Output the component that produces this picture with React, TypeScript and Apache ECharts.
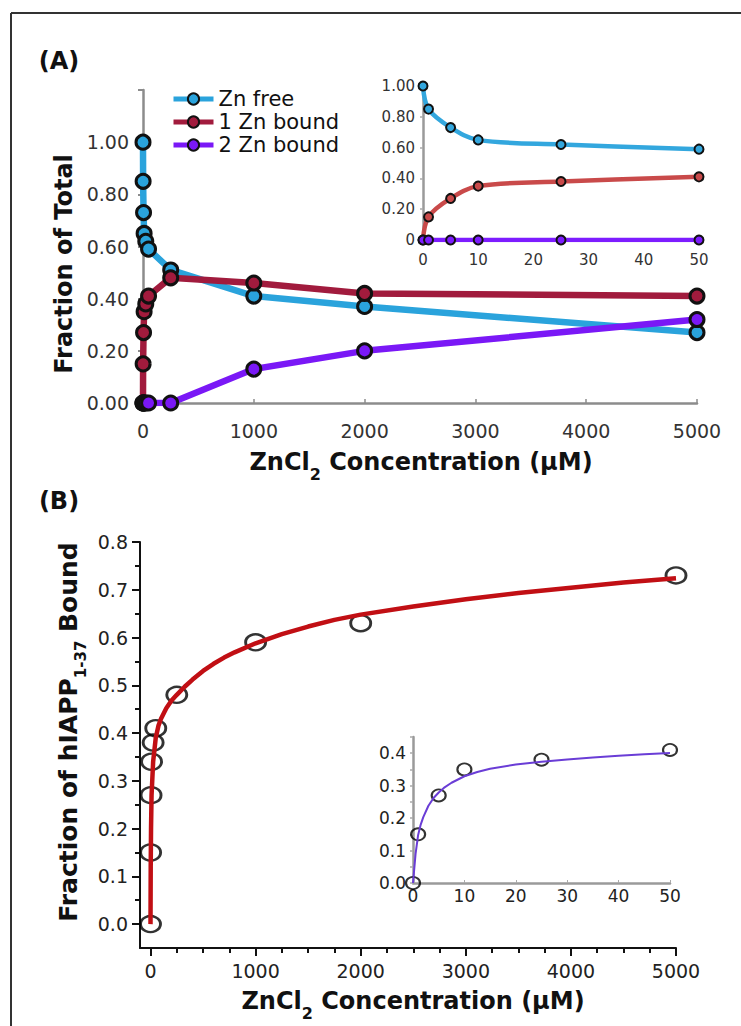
import React, { useEffect, useRef } from "react";
import * as echarts from "echarts";

// ---------- data ----------
// Panel A main: fractions vs ZnCl2 concentration (µM)
const concA = [0, 1, 5, 10, 25, 50, 250, 1000, 2000, 5000];
const znFree = [1.0, 0.85, 0.73, 0.65, 0.62, 0.59, 0.51, 0.41, 0.37, 0.27];
const zn1Bound = [0, 0.15, 0.27, 0.35, 0.38, 0.41, 0.48, 0.46, 0.42, 0.41];
const zn2Bound = [0, 0, 0, 0, 0, 0, 0, 0.13, 0.2, 0.32];

// Panel A inset (0-50 µM)
const concAInset = [0, 1, 5, 10, 25, 50];
const znFreeInset = [1.0, 0.85, 0.73, 0.65, 0.62, 0.59];
const zn1BoundInset = [0, 0.15, 0.27, 0.35, 0.38, 0.41];
const zn2BoundInset = [0, 0, 0, 0, 0, 0];

// Panel B main: fraction of hIAPP bound
const concB = [0, 1, 5, 10, 25, 50, 250, 1000, 2000, 5000];
const boundB = [0, 0.15, 0.27, 0.34, 0.38, 0.41, 0.48, 0.59, 0.63, 0.73];
// fitted curve
const fitBX = [0, 2, 5, 10, 25, 50, 75, 100, 150, 200, 250, 325, 400, 500, 600, 700, 800, 1000, 1250, 1500, 1750, 2000, 2500, 3000, 3500, 4000, 4500, 5000];
const fitBY = [0, 0.12, 0.2, 0.27, 0.34, 0.39, 0.415, 0.43, 0.452, 0.468, 0.48, 0.497, 0.512, 0.53, 0.545, 0.558, 0.569, 0.588, 0.607, 0.623, 0.637, 0.648, 0.665, 0.68, 0.693, 0.704, 0.715, 0.724];

// Panel B inset (0-50 µM)
const concBInset = [0, 1, 5, 10, 25, 50];
const boundBInset = [0, 0.15, 0.27, 0.35, 0.38, 0.41];
const fitBInsetX = [0, 0.5, 1, 1.5, 2, 3, 4, 5, 6, 7.5, 10, 12.5, 15, 20, 25, 30, 35, 40, 45, 50];
const fitBInsetY = [0, 0.09, 0.148, 0.18, 0.203, 0.238, 0.262, 0.279, 0.293, 0.309, 0.329, 0.342, 0.352, 0.365, 0.374, 0.381, 0.387, 0.392, 0.397, 0.401];

// tick values
const ticksAX = [0, 1000, 2000, 3000, 4000, 5000];
const labelsAY = [0, 0.2, 0.4, 0.6, 0.8, 1.0];
const ticksAY = [0, 0.2, 0.4, 0.6, 0.8, 1.0, 1.2];
const majorBX = [0, 1000, 2000, 3000, 4000, 5000];
const minorBX = [250, 500, 750, 1250, 1500, 1750, 2250, 2500, 2750, 3250, 3500, 3750, 4250, 4500, 4750];
const majorBY = [0, 0.1, 0.2, 0.3, 0.4, 0.5, 0.6, 0.7, 0.8];
const minorBY = [0.05, 0.15, 0.25, 0.35, 0.45, 0.55, 0.65, 0.75];
const labelsBInsetY = [0, 0.1, 0.2, 0.3, 0.4];
const ticksBInsetY = [0, 0.05, 0.1, 0.15, 0.2, 0.25, 0.3, 0.35, 0.4, 0.45];

const seriesNames = ["Zn free", "1 Zn bound", "2 Zn bound"];

const FONT = '"DejaVu Sans", "Liberation Sans", Arial, sans-serif';

const zip = (xs: number[], ys: number[]) => xs.map((x, i) => [x, ys[i]]);
const plain = (v: number) => String(v);

export default function App() {
  const ref = useRef<HTMLDivElement>(null);

  useEffect(() => {
    if (!ref.current) return;
    const chart = echarts.init(ref.current, undefined, { renderer: "svg" });

    const blueA = "#2aa3dc";
    const redA = "#a11b3d";
    const purpleA = "#7a18f6";
    const blueIn = "#33a7de";
    const redIn = "#c94a4a";
    const purpleIn = "#7d1cff";
    const grayAxis = "#8c8c8c";

    const lab = (size: number, extra: any = {}) => ({
      fontFamily: FONT,
      fontSize: size,
      color: "#333",
      ...extra,
    });

    const mainLine = (name: string, color: string, ys: number[]) => ({
      type: "line",
      name,
      xAxisIndex: 0,
      yAxisIndex: 0,
      data: zip(concA, ys),
      symbol: "circle",
      symbolSize: 14,
      showAllSymbol: true,
      lineStyle: { color, width: 6.5 },
      itemStyle: { color, borderColor: "#111", borderWidth: 3 },
      emphasis: { disabled: true },
    });

    const insetLine = (name: string, color: string, ys: number[]) => ({
      type: "line",
      name,
      xAxisIndex: 1,
      yAxisIndex: 1,
      data: zip(concAInset, ys),
      smooth: 0.35,
      symbol: "circle",
      symbolSize: 9,
      showAllSymbol: true,
      lineStyle: { color, width: 4.5 },
      itemStyle: { color, borderColor: "#111", borderWidth: 2 },
      emphasis: { disabled: true },
    });

    const option: any = {
      animation: false,
      backgroundColor: "#fff",
      legend: {
        data: seriesNames,
        orient: "vertical",
        left: 166,
        top: 83,
        itemWidth: 40,
        itemHeight: 14,
        itemGap: 1,
        itemTextGap: 3,
        selectedMode: false,
        lineStyle: { width: 5 },
        textStyle: { fontFamily: FONT, fontSize: 21, color: "#111", lineHeight: 22 },
      },
      grid: [
        { left: 143, top: 90, width: 554, height: 313 },
        { left: 423, top: 86, width: 276, height: 154 },
        { left: 140, top: 542, width: 536, height: 406 },
        { left: 413, top: 737, width: 257, height: 146 },
      ],
      xAxis: [
        {
          type: "value",
          gridIndex: 0,
          position: "bottom",
          min: 0,
          max: 5000,
          axisLine: { show: true, onZero: false, lineStyle: { color: grayAxis, width: 2.5 } },
          axisTick: { show: true, inside: true, length: 4, customValues: ticksAX, lineStyle: { color: grayAxis, width: 1.5 } },
          axisLabel: { customValues: ticksAX, margin: 18, formatter: plain, ...lab(19) },
          splitLine: { show: false },
        },
        {
          type: "value",
          gridIndex: 1,
          position: "bottom",
          min: 0,
          max: 50,
          interval: 10,
          axisLine: { show: true, onZero: false, lineStyle: { color: "#a0a0a0", width: 2 } },
          axisTick: { show: false },
          axisLabel: { margin: 12, formatter: plain, ...lab(15) },
          splitLine: { show: false },
        },
        {
          type: "value",
          gridIndex: 2,
          position: "bottom",
          min: -100,
          max: 5000,
          axisLine: { show: true, onZero: false, lineStyle: { color: "#111", width: 2 } },
          axisTick: { show: true, length: 8, customValues: majorBX, lineStyle: { color: "#111", width: 2 } },
          axisLabel: { customValues: majorBX, margin: 13, formatter: plain, ...lab(19, { color: "#222" }) },
          splitLine: { show: false },
        },
        {
          type: "value",
          gridIndex: 2,
          position: "bottom",
          min: -100,
          max: 5000,
          axisLine: { show: false, onZero: false },
          axisTick: { show: true, length: 5, customValues: minorBX, lineStyle: { color: "#111", width: 2 } },
          axisLabel: { show: false },
          splitLine: { show: false },
        },
        {
          type: "value",
          gridIndex: 3,
          position: "bottom",
          min: 0,
          max: 50,
          interval: 10,
          axisLine: { show: true, onZero: false, lineStyle: { color: "#9a9a9a", width: 2.5 } },
          axisTick: { show: true, inside: true, length: 3, lineStyle: { color: "#aaa", width: 1 } },
          axisLabel: { margin: 4, formatter: plain, ...lab(17, { color: "#222" }) },
          splitLine: { show: false },
        },
      ],
      yAxis: [
        {
          type: "value",
          gridIndex: 0,
          position: "left",
          min: 0,
          max: 1.2,
          axisLine: { show: true, onZero: false, lineStyle: { color: grayAxis, width: 2.5 } },
          axisTick: { show: true, length: 5, customValues: ticksAY, lineStyle: { color: grayAxis, width: 2 } },
          axisLabel: { customValues: labelsAY, margin: 14, formatter: (v: number) => v.toFixed(2), ...lab(19) },
          splitLine: { show: false },
        },
        {
          type: "value",
          gridIndex: 1,
          position: "left",
          min: 0,
          max: 1.0,
          interval: 0.2,
          axisLine: { show: true, onZero: false, lineStyle: { color: "#9a9a9a", width: 2.5 } },
          axisTick: { show: true, length: 3, lineStyle: { color: "#aaa", width: 1.5 } },
          axisLabel: { margin: 8, formatter: (v: number) => (v === 0 ? "0" : v.toFixed(2)), ...lab(15) },
          splitLine: { show: false },
        },
        {
          type: "value",
          gridIndex: 2,
          position: "left",
          min: -0.05,
          max: 0.8,
          axisLine: { show: true, onZero: false, lineStyle: { color: "#111", width: 2 } },
          axisTick: { show: true, length: 8, customValues: majorBY, lineStyle: { color: "#111", width: 2 } },
          axisLabel: { customValues: majorBY, margin: 12, formatter: (v: number) => v.toFixed(1), ...lab(19, { color: "#222" }) },
          splitLine: { show: false },
        },
        {
          type: "value",
          gridIndex: 2,
          position: "left",
          min: -0.05,
          max: 0.8,
          axisLine: { show: false, onZero: false },
          axisTick: { show: true, length: 5, customValues: minorBY, lineStyle: { color: "#111", width: 2 } },
          axisLabel: { show: false },
          splitLine: { show: false },
        },
        {
          type: "value",
          gridIndex: 3,
          position: "left",
          min: 0,
          max: 0.45,
          axisLine: { show: true, onZero: false, lineStyle: { color: "#9a9a9a", width: 2.5 } },
          axisTick: { show: true, length: 3, customValues: ticksBInsetY, lineStyle: { color: "#aaa", width: 1.5 } },
          axisLabel: { customValues: labelsBInsetY, margin: 7, formatter: (v: number) => v.toFixed(1), ...lab(17, { color: "#222" }) },
          splitLine: { show: false },
        },
      ],
      series: [
        mainLine(seriesNames[0], blueA, znFree),
        mainLine(seriesNames[1], redA, zn1Bound),
        mainLine(seriesNames[2], purpleA, zn2Bound),
        insetLine("Zn free (0-50 µM)", blueIn, znFreeInset),
        insetLine("1 Zn bound (0-50 µM)", redIn, zn1BoundInset),
        insetLine("2 Zn bound (0-50 µM)", purpleIn, zn2BoundInset),
        {
          type: "line",
          name: "fit",
          xAxisIndex: 2,
          yAxisIndex: 2,
          data: zip(fitBX, fitBY),
          smooth: false,
          showSymbol: false,
          lineStyle: { color: "#c10f14", width: 4.5, join: "round" },
          emphasis: { disabled: true },
        },
        {
          type: "scatter",
          name: "hIAPP bound",
          xAxisIndex: 2,
          yAxisIndex: 2,
          data: zip(concB, boundB),
          symbol: "circle",
          symbolSize: [20, 16],
          itemStyle: { color: "rgba(0,0,0,0)", borderColor: "#000", borderWidth: 2.6 },
          emphasis: { disabled: true },
        },
        {
          type: "line",
          name: "fit inset",
          xAxisIndex: 4,
          yAxisIndex: 4,
          data: zip(fitBInsetX, fitBInsetY),
          smooth: false,
          showSymbol: false,
          lineStyle: { color: "#6a3dd6", width: 2, join: "round" },
          emphasis: { disabled: true },
        },
        {
          type: "scatter",
          name: "hIAPP bound inset",
          xAxisIndex: 4,
          yAxisIndex: 4,
          data: zip(concBInset, boundBInset),
          symbol: "circle",
          symbolSize: [14, 12],
          itemStyle: { color: "rgba(0,0,0,0)", borderColor: "#000", borderWidth: 2 },
          emphasis: { disabled: true },
        },
      ],
      graphic: [
        { type: "line", shape: { x1: 11, y1: 13, x2: 741, y2: 13 }, style: { stroke: "#333", lineWidth: 2 } },
        { type: "line", shape: { x1: 11, y1: 13, x2: 11, y2: 1026 }, style: { stroke: "#333", lineWidth: 2 } },
        {
          type: "text",
          x: 59,
          y: 61,
          style: { text: "(A)", fontFamily: FONT, fontSize: 24, fontWeight: "bold", fill: "#111", align: "center", verticalAlign: "middle" },
        },
        {
          type: "text",
          x: 59,
          y: 501,
          style: { text: "(B)", fontFamily: FONT, fontSize: 24, fontWeight: "bold", fill: "#111", align: "center", verticalAlign: "middle" },
        },
        {
          type: "text",
          x: 64,
          y: 264,
          rotation: Math.PI / 2,
          style: { text: "Fraction of Total", fontFamily: FONT, fontSize: 24, fontWeight: "bold", fill: "#111", align: "center", verticalAlign: "middle" },
        },
        {
          type: "text",
          x: 421,
          y: 462,
          style: {
            text: "{m|ZnCl}{s|2}{m| Concentration (µM)}",
            fill: "#111",
            align: "center",
            verticalAlign: "middle",
            rich: {
              m: { fontFamily: FONT, fontSize: 24, fontWeight: "bold", lineHeight: 40 },
              s: { fontFamily: FONT, fontSize: 16, fontWeight: "bold", lineHeight: 16, verticalAlign: "bottom" },
            },
          },
        },
        {
          type: "text",
          x: 413,
          y: 1001,
          style: {
            text: "{m|ZnCl}{s|2}{m| Concentration (µM)}",
            fill: "#111",
            align: "center",
            verticalAlign: "middle",
            rich: {
              m: { fontFamily: FONT, fontSize: 24, fontWeight: "bold", lineHeight: 40 },
              s: { fontFamily: FONT, fontSize: 16, fontWeight: "bold", lineHeight: 16, verticalAlign: "bottom" },
            },
          },
        },
        {
          type: "text",
          x: 68,
          y: 732,
          rotation: Math.PI / 2,
          style: {
            text: "{m|Fraction of hIAPP}{s|1-37}{m| Bound}",
            fill: "#111",
            align: "center",
            verticalAlign: "middle",
            rich: {
              m: { fontFamily: FONT, fontSize: 25, fontWeight: "bold", lineHeight: 40 },
              s: { fontFamily: FONT, fontSize: 15, fontWeight: "bold", lineHeight: 15, verticalAlign: "bottom" },
            },
          },
        },
      ],
    };

    chart.setOption(option);
    return () => chart.dispose();
  }, []);

  return (
    <div
      ref={ref}
      style={{ position: "absolute", left: 0, top: 0, width: 741, height: 1026, background: "#fff" }}
    />
  );
}
